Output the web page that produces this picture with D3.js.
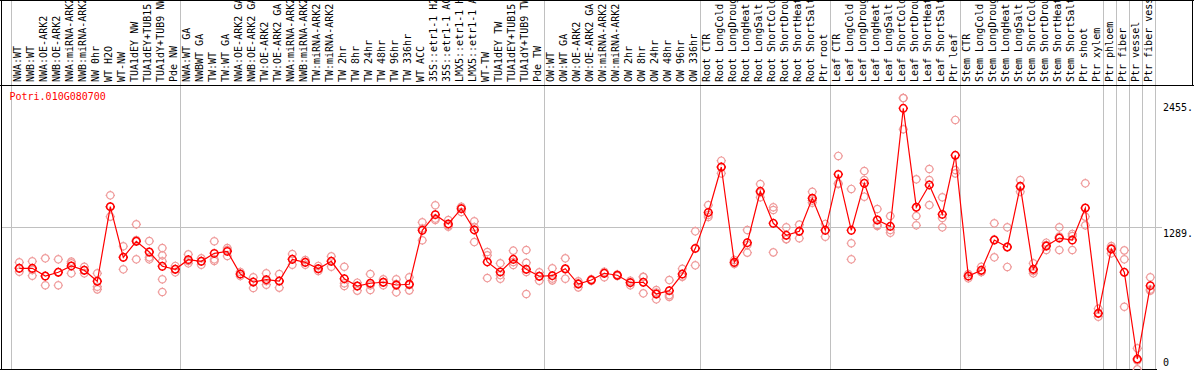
<!DOCTYPE html>
<html>
<head>
<meta charset="utf-8">
<style>
  body { margin: 0; background: white; }
  text { font-family: "DejaVu Sans Mono", "Liberation Mono", monospace; font-size: 10px; }
  .grid { stroke: #c0c0c0; stroke-width: 1px; shape-rendering: crispEdges; }
  .frame { stroke: black; stroke-width: 1px; shape-rendering: crispEdges; }
</style>
<script src="https://d3js.org/d3.v7.min.js"></script>
</head>
<body>
<script>

var gene = "Potri.010G080700";

var samples = ["NWA:WT","NWB:WT","NWA:OE-ARK2","NWB:OE-ARK2","NWA:miRNA-ARK2","NWB:miRNA-ARK2",
  "NW 0hr","WT H2O","WT-NW","TUA1dEY NW","TUA1dEY+TUB15 NW","TUA1dY+TUB9 NW","Pde NW",
  "NWA:WT GA","NWBWT GA","TW:WT","TW:WT GA","NWA:OE-ARK2 GA","NWB:OE-ARK2 GA","TW:OE-ARK2",
  "TW:OE-ARK2 GA","NWA:miRNA-ARK2","NWB:miRNA-ARK2","TW:miRNA-ARK2","TW:miRNA-ARK2",
  "TW 2hr","TW 8hr","TW 24hr","TW 48hr","TW 96hr","TW 336hr","WT ACC",
  "35S::etr1-1 H2O","35S::etr1-1 ACC","LMX5::etr1-1 H2O","LMX5::etr1-1 ACC",
  "WT-TW","TUA1dEY TW","TUA1dEY+TUB15 TW","TUA1dY+TUB9 TW","Pde TW",
  "OW:WT","OW:WT GA","OW:OE-ARK2","OW:OE-ARK2 GA","OW:miRNA-ARK2","OW:miRNA-ARK2",
  "OW 2hr","OW 8hr","OW 24hr","OW 48hr","OW 96hr","OW 336hr",
  "Root CTR","Root LongCold","Root LongDrought","Root LongHeat","Root LongSalt",
  "Root ShortCold","Root ShortDrought","Root ShortHeat","Root ShortSalt","Ptr root",
  "Leaf CTR","Leaf LongCold","Leaf LongDrought","Leaf LongHeat","Leaf LongSalt",
  "Leaf ShortCold","Leaf ShortDrought","Leaf ShortHeat","Leaf ShortSalt","Ptr leaf",
  "Stem CTR","Stem LongCold","Stem LongDrought","Stem LongHeat","Stem LongSalt",
  "Stem ShortCold","Stem ShortDrought","Stem ShortHeat","Stem ShortSalt","Ptr shoot",
  "Ptr xylem","Ptr phloem","Ptr fiber","Ptr vessel","Ptr fiber vessel"];

// mean expression per sample
var means = [918,918,848,882,939,900,801,1474,1017,1162,1065,936,909,
  996,981,1053,1071,866,794,815,803,999,972,914,981,
  824,758,783,792,767,774,1261,1402,1318,1456,1264,
  975,885,999,909,846,
  851,914,776,812,873,855,788,792,686,716,866,1098,
  1422,1832,972,1149,1613,1324,1216,1252,1550,1261,
  1766,1261,1685,1354,1297,2362,1469,1670,1405,1938,
  848,900,1173,1110,1658,909,1119,1191,1173,1462,
  512,1092,882,99,761];

// replicate values per sample
var reps = [[972,921,887],[981,903,851],[1008,848,765],[999,885,765],[978,963,873],[932,903,873],
  [873,752,728],[1577,1474,1384],[1117,1017,909],[1315,1172,999],[1164,1017,999],
  [1101,1035,981,819,704],[939,912,882],
  [1044,984,963],[1008,984,950],[1162,999,984],[1101,1083,1029],[885,866,848],[837,794,740],
  [873,803,770],[866,803,743],[1047,999,950],[993,972,950],[939,914,894],[1026,984,932],
  [932,783,758],[788,758,716],[866,765,722],[819,792,765],[819,776,701],[837,767,719],
  [1333,1277,1171],[1487,1367,1354],[1354,1304,1293],[1474,1467,1426],[1342,1291,1155],
  [1065,1035,830],[963,857,824],[1077,975,948],[1083,968,885,686],[882,848,806],
  [918,826,809],[1008,910,824],[801,783,746],[819,812,806],[887,876,837],[862,855,848],
  [806,794,765],[842,839,692],[722,700,638],[812,676,660],[914,844,842],[1252,1097,945],
  [1489,1399,1381],[1889,1832,1775],[993,966,957],[1264,1128,1059],[1679,1602,1559],
  [1469,1444,1062],[1288,1182,1180],[1312,1255,1189],[1609,1530,1510],[1318,1264,1203],
  [1932,1685,1679],[1634,1144,999],[1796,1715,1564],[1453,1309,1300],[1390,1264,1239],
  [2455,2455,2173],[1721,1390,1306],[1814,1715,1489],[1559,1372,1288],[2257,1805,1775],
  [866,848,828],[932,885,885],[1324,1178,1017],[1288,1110,930],[1715,1652,1609],
  [963,894,873],[1149,1128,1083],[1288,1205,1083],[1228,1209,1083],[1685,1384,1306],
  [553,510,481],[1119,1101,1053],[1080,999,571],[196,86,6],[837,727,716]];

// group boundaries (index of first sample in each group, last = end)
var groupStarts = [0,13,41,53,63,73,84,85,86,87,88];

var yTicks = [0, 1289, 2455];
var yTickLabels = ["0", "1289.", "2455."];

var width = 1194, height = 370;
var labelBottom = 85, plotBottom = 369;

var svg = d3.select("body").append("svg")
    .attr("width", width)
    .attr("height", height);

var x = d3.scalePoint().domain(d3.range(samples.length)).range([19.3, 19.3 + 13 * (samples.length - 1)]);
var y = d3.scaleLinear().domain([0, d3.max(yTicks)]).range([370, 98]);

// vertical group lines
svg.selectAll("line.vgrid")
  .data(groupStarts)
  .enter().append("line")
  .attr("class", "grid")
  .attr("x1", function(d) { return Math.round(x(0) + 13 * d - 8) + 0.5; })
  .attr("x2", function(d) { return Math.round(x(0) + 13 * d - 8) + 0.5; })
  .attr("y1", 0)
  .attr("y2", plotBottom);

// horizontal line at middle tick
svg.append("line")
  .attr("class", "grid")
  .attr("x1", 1).attr("x2", 1162)
  .attr("y1", Math.round(y(yTicks[1])) + 0.5)
  .attr("y2", Math.round(y(yTicks[1])) + 0.5);

// frame
svg.append("line").attr("class", "frame").attr("x1", 0).attr("x2", width).attr("y1", labelBottom + 0.5).attr("y2", labelBottom + 0.5);
svg.append("line").attr("class", "frame").attr("x1", 0).attr("x2", width).attr("y1", 0.5).attr("y2", 0.5);
svg.append("line").attr("class", "frame").attr("x1", 1.5).attr("x2", 1.5).attr("y1", 0).attr("y2", plotBottom);
svg.append("line").attr("class", "frame").attr("x1", width - 1.5).attr("x2", width - 1.5).attr("y1", 0).attr("y2", labelBottom);
svg.append("line").attr("class", "frame").attr("x1", 0).attr("x2", 1157).attr("y1", plotBottom + 0.5).attr("y2", plotBottom + 0.5);

// sample labels, clipped at the top
svg.append("clipPath").attr("id", "labclip")
  .append("rect").attr("x", 0).attr("y", 1).attr("width", width).attr("height", labelBottom - 1);

svg.append("g").attr("clip-path", "url(#labclip)")
  .selectAll("text")
  .data(samples)
  .enter().append("text")
  .attr("transform", function(d, i) { return "translate(" + (x(i) + 2) + "," + 82 + ") rotate(-90)"; })
  .attr("fill", "black")
  .text(function(d) { return d; });

// gene name
svg.append("text")
  .attr("x", 9.5).attr("y", 100)
  .attr("fill", "red")
  .text(gene);

// right value labels
svg.selectAll("text.ytick")
  .data(yTicks)
  .enter().append("text")
  .attr("class", "ytick")
  .attr("x", 1163)
  .attr("y", function(d, i) {
    if (d === 0) return y(d) - 4.5;
    if (i === yTicks.length - 1) return y(d) + 12.5;
    return y(d) + 9.5;
  })
  .attr("fill", "black")
  .text(function(d, i) { return yTickLabels[i]; });

// marker shape: circle with four small ticks
var marker = function(r) {
  var p = d3.path();
  p.moveTo(r, 0);
  p.arc(0, 0, r, 0, 2 * Math.PI);
  p.moveTo(0, -r); p.lineTo(0, -r - 1);
  p.moveTo(0, r); p.lineTo(0, r + 1);
  p.moveTo(-r, 0); p.lineTo(-r - 1, 0);
  p.moveTo(r, 0); p.lineTo(r + 1, 0);
  return p.toString();
};

var repPoints = [];
reps.forEach(function(vals, i) {
  vals.forEach(function(v) { repPoints.push({i: i, v: v}); });
});

svg.append("g").selectAll("path")
  .data(repPoints)
  .enter().append("path")
  .attr("d", marker(3.7))
  .attr("transform", function(d) { return "translate(" + x(d.i) + "," + y(d.v) + ")"; })
  .attr("fill", "none")
  .attr("stroke", "#ef9a9a")
  .attr("stroke-width", 1.2);

var line = d3.line()
  .x(function(d, i) { return x(i); })
  .y(function(d) { return y(d); });

svg.append("path")
  .datum(means)
  .attr("d", line)
  .attr("fill", "none")
  .attr("stroke", "red")
  .attr("stroke-width", 1.2);

svg.append("g").selectAll("path")
  .data(means)
  .enter().append("path")
  .attr("d", marker(3.7))
  .attr("transform", function(d, i) { return "translate(" + x(i) + "," + y(d) + ")"; })
  .attr("fill", "none")
  .attr("stroke", "red")
  .attr("stroke-width", 1.5);

</script>
</body>
</html>
